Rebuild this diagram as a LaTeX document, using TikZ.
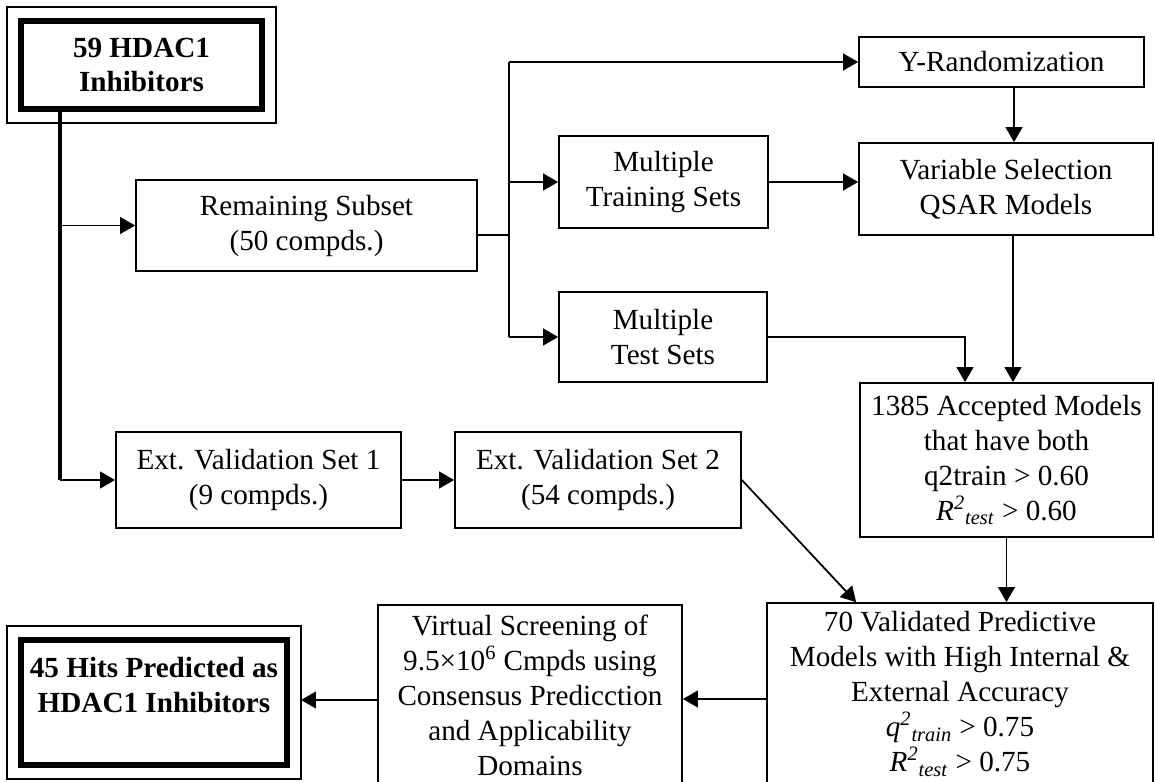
\documentclass[tikz,border=0pt]{standalone}
\usepackage{fontspec}
\setmainfont{Liberation Serif}
\usetikzlibrary{arrows.meta}
\begin{document}
\begin{tikzpicture}[>={Triangle[length=8.5pt,width=9.5pt]}, line width=1pt,
  flowbox/.style={draw, line width=1pt, align=center, inner sep=0pt, font=\fontsize{16.6}{19.9}\selectfont},
  endbox/.style={flowbox, line width=3.4pt, font=\fontsize{16.6}{19.9}\selectfont\bfseries},
  outerframe/.style={line width=0.8pt},
  trunk/.style={line width=2.3pt}]
\useasboundingbox (0,0) rectangle (23.1,-15.62);
\node (hdac) at (2.83,-1.30) [endbox, minimum width=4.82cm, minimum height=1.76cm] {59 HDAC1\\Inhibitors};
\draw[outerframe] ([shift={(-0.22,0.22)}]hdac.north west) rectangle ([shift={(0.22,-0.22)}]hdac.south east);
\node (rem) at (6.13,-4.51) [flowbox, minimum width=6.82cm, minimum height=1.82cm] {Remaining Subset\\(50 compds.)};
\node (train) at (13.27,-3.64) [flowbox, minimum width=4.18cm, minimum height=1.84cm] {Multiple\\Training Sets};
\node (test) at (13.26,-6.74) [flowbox, minimum width=4.16cm, minimum height=1.8cm] {Multiple\\Test Sets};
\node (yrand) at (20.03,-1.24) [flowbox, minimum width=5.7cm, minimum height=1.0cm] {Y-Randomization};
\node (vsel) at (20.12,-3.78) [flowbox, minimum width=5.88cm, minimum height=1.84cm] {Variable Selection\\QSAR Models};
\node (accept) at (20.13,-9.2) [flowbox, minimum width=5.86cm, minimum height=3.08cm] {1385 Accepted Models\\that have both\\q2train > 0.60\\\textit{R}\textsuperscript{\textit{2}}\textsubscript{\textit{test}} > 0.60};
\node (valid) at (19.2,-13.88) [flowbox, minimum width=7.72cm, minimum height=3.64cm] {70 Validated Predictive\\Models with High Internal \&\\External Accuracy\\\textit{q}\textsuperscript{\textit{2}}\textsubscript{\textit{train}} > 0.75\\\textit{R}\textsuperscript{\textit{2}}\textsubscript{\textit{test}} > 0.75};
\node (screen) at (10.6,-13.9) [flowbox, minimum width=6.08cm, minimum height=3.6cm] {Virtual Screening of\\9.5×10\textsuperscript{6} Cmpds using\\Consensus Predicction\\and Applicability\\Domains};
\node (hits) at (3.08,-14.05) [endbox, minimum width=5.32cm, minimum height=2.5cm] {45 Hits Predicted as\\HDAC1 Inhibitors\\\mbox{}};
\draw[outerframe] ([shift={(-0.22,0.22)}]hits.north west) rectangle ([shift={(0.22,-0.22)}]hits.south east);
\node (ext1) at (5.17,-9.6) [flowbox, minimum width=5.7cm, minimum height=1.92cm] {Ext. Validation Set 1\\(9 compds.)};
\node (ext2) at (11.96,-9.6) [flowbox, minimum width=5.72cm, minimum height=1.92cm] {Ext. Validation Set 2\\(54 compds.)};
\coordinate (tr) at (1.2,0);
\coordinate (br) at (10.18,0);
\coordinate (remout) at ([yshift=-0.19cm]rem.east);
\draw[trunk] (tr |- hdac.south) -- (tr |- ext1.west);
\draw[->] (tr |- rem.west) -- (rem.west);
\draw[->] (tr |- ext1.west) -- (ext1.west);
\draw (remout) -- (remout -| br);
\draw (br |- yrand.west) -- (br |- test.west);
\draw[->] (br |- yrand.west) -- (yrand.west);
\draw[->] (br |- train.west) -- (train.west);
\draw[->] (br |- test.west) -- (test.west);
\draw[->] (train.east) -- (train.east -| vsel.west);
\draw[->] ([xshift=0.25cm]yrand.south) -- ([xshift=0.25cm]yrand.south |- vsel.north);
\draw[->] ([xshift=0.14cm]vsel.south) -- ([xshift=0.14cm]vsel.south |- accept.north);
\draw[->] (test.east) -| ([xshift=-0.83cm]accept.north);
\draw[->] (accept.south) -- (accept.south |- valid.north);
\draw[->] (ext1.east) -- (ext2.west);
\draw[->] (ext2.east) -- ([xshift=1.8cm]valid.north west);
\draw[->] ([yshift=-0.1cm]valid.west) -- ([yshift=-0.1cm]screen.east |- valid.west);
\draw[->] ([yshift=-0.1cm]screen.west) -- ([shift={(0.22cm,-0.1cm)}]screen.west -| hits.east);
\end{tikzpicture}
\end{document}
